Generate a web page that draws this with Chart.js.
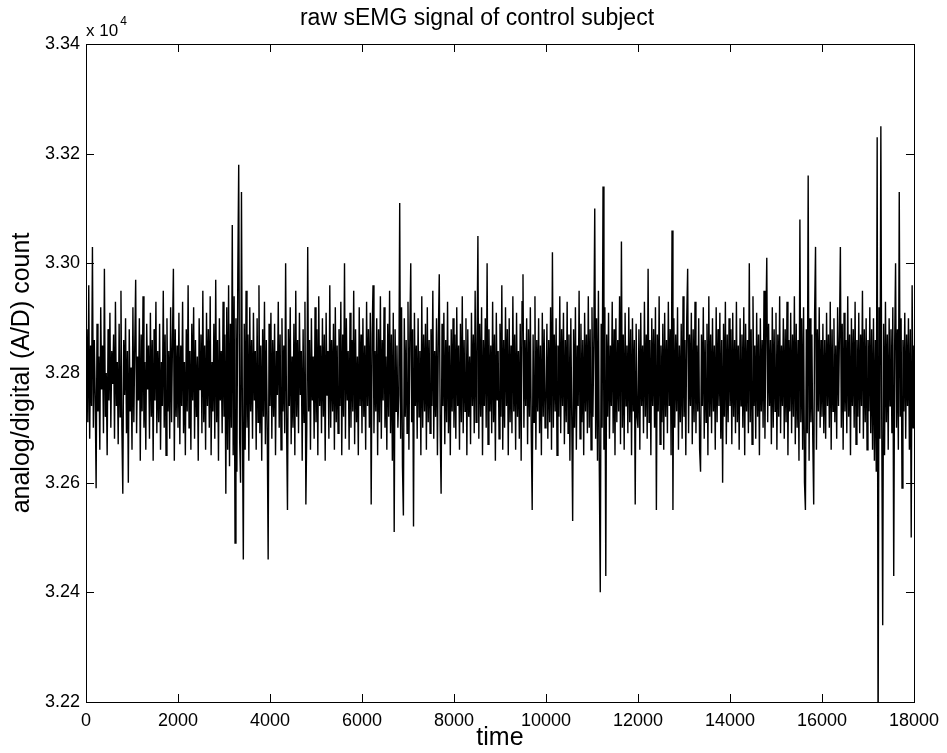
<!DOCTYPE html>
<html>
<head>
<meta charset="utf-8">
<title>raw sEMG signal of control subject</title>
<script src="https://cdn.jsdelivr.net/npm/chart.js"></script>
<style>
  html, body { margin: 0; padding: 0; background: #fff; }
  #wrap { width: 947px; height: 753px; }
</style>
</head>
<body>
<div id="wrap"><canvas id="emgChart" width="947" height="753"></canvas></div>
<script>
// raw A/D counts, one array per 2000 time units (20 units per sample)
const seg0 = [
  32790, 32880, 32710, 32960, 32680, 32850, 32740, 33030, 32700, 32860,
  32760, 32590, 32890, 32730, 32830, 32660, 32920, 32770, 32850, 32690,
  32990, 32720, 32800, 32650, 32880, 32750, 32910, 32700, 32840, 32780,
  32870, 32680, 32930, 32740, 32820, 32670, 32890, 32720, 32950, 32700,
  32580, 32860, 32760, 32900, 32690, 32840, 32600, 32880, 32730, 32810,
  32660, 32920, 32710, 32850, 32970, 32690, 32830, 32750, 32900, 32640,
  32870, 32730, 32940, 32700, 32820, 32660, 32890, 32770, 32850, 32680,
  32910, 32720, 32860, 32640, 32880, 32750, 32930, 32690, 32840, 32710,
  32890, 32660, 32820, 32740, 32950, 32700, 32870, 32650, 32900, 32730,
  32840, 32680, 32920, 32710, 32860, 32990, 32640, 32880, 32720, 32850
];
const seg1 = [
  32700, 32910, 32670, 32850, 32740, 32930, 32690, 32820, 32650, 32880,
  32730, 32960, 32700, 32840, 32660, 32890, 32750, 32920, 32680, 32860,
  32720, 32830, 32640, 32900, 32770, 32870, 32690, 32950, 32710, 32850,
  32660, 32910, 32740, 32880, 32700, 32940, 32650, 32820, 32730, 32890,
  32680, 32970, 32710, 32860, 32640, 32900, 32750, 32840, 32690, 32930,
  32720, 32870, 32580, 32920, 32660, 32960, 32630, 32890, 32700, 33070,
  32650, 32940, 32490, 32900, 32620, 32980, 33180, 32680, 32600, 33130,
  32720, 32460, 32890, 32660, 32950, 32700, 32870, 32640, 32920, 32730,
  32860, 32680, 32910, 32750, 32840, 32660, 32900, 32710, 32960, 32690,
  32850, 32640, 32880, 32720, 32930, 32670, 32860, 32700, 32460, 32890
];
const seg2 = [
  32740, 32910, 32680, 32860, 32720, 32890, 32650, 32840, 32760, 32930,
  32700, 32870, 32660, 32900, 32730, 32850, 32690, 33000, 32710, 32550,
  32880, 32740, 32920, 32670, 32830, 32700, 32890, 32650, 32950, 32720,
  32860, 32690, 32910, 32760, 32840, 32640, 32880, 32710, 32930, 32560,
  32700, 33030, 32730, 32860, 32660, 32900, 32750, 32830, 32680, 32920,
  32710, 32880, 32650, 32940, 32740, 32850, 32690, 32900, 32720, 32870,
  32640, 32910, 32760, 32840, 32680, 32960, 32700, 32860, 32730, 32890,
  32660, 32920, 32710, 32850, 32690, 32880, 32740, 32930, 32650, 32870,
  32720, 33000, 32680, 32900, 32750, 32840, 32660, 32910, 32700, 32860,
  32730, 32950, 32670, 32880, 32710, 32830, 32650, 32920, 32740, 32870
];
const seg3 = [
  32690, 32900, 32720, 32850, 32660, 32930, 32740, 32880, 32700, 32910,
  32560, 32870, 32960, 32690, 32840, 32730, 32900, 32650, 32880, 32710,
  32940, 32680, 32860, 32750, 32920, 32700, 32830, 32660, 32890, 32720,
  32950, 32690, 32870, 32640, 32910, 32510, 32880, 32730, 32850, 32700,
  32760, 33110, 32680, 32920, 32630, 32540, 32900, 32720, 32860, 32690,
  32930, 32660, 32870, 33000, 32710, 32880, 32520, 32910, 32740, 32850,
  32680, 32900, 32720, 32840, 32650, 32940, 32700, 32870, 32730, 32890,
  32660, 32920, 32710, 32860, 32690, 32880, 32740, 32950, 32680, 32840,
  32720, 32900, 32650, 32870, 32980, 32700, 32580, 32890, 32740, 32910,
  32670, 32860, 32710, 32930, 32690, 32850, 32650, 32880, 32730, 32900
];
const seg4 = [
  32700, 32870, 32680, 32920, 32740, 32850, 32660, 32890, 32710, 32940,
  32690, 32860, 32730, 32900, 32650, 32880, 32720, 32830, 32670, 32910,
  32740, 32870, 32690, 32950, 32710, 32840, 33050, 32680, 32890, 32720,
  32920, 32650, 32860, 32740, 32900, 32700, 33000, 32670, 32880, 32730,
  32850, 32690, 32930, 32710, 32870, 32640, 32910, 32750, 32840, 32680,
  32890, 32720, 32960, 32660, 32860, 32700, 32920, 32740, 32880, 32650,
  32900, 32710, 32850, 32690, 32940, 32730, 32870, 32660, 32910, 32720,
  32840, 32680, 32890, 32640, 32930, 32980, 32700, 32860, 32740, 32900,
  32670, 32880, 32720, 32920, 32690, 32550, 32870, 32710, 32940, 32660,
  32860, 32730, 32900, 32690, 32850, 32650, 32910, 32720, 32880, 32700
];
const seg5 = [
  32740, 32890, 32680, 32860, 32710, 32920, 32660, 33020, 32700, 32870,
  32730, 32900, 32650, 32850, 32720, 32940, 32690, 32880, 32740, 32910,
  32670, 32860, 32710, 32930, 32690, 32870, 32640, 32900, 32720, 32530,
  32880, 32700, 32920, 32660, 32850, 32740, 32950, 32680, 32890, 32710,
  32860, 32650, 32910, 32730, 32870, 32690, 32940, 32700, 32880, 32660,
  32920, 32720, 32860, 33100, 32680, 32900, 32640, 32950, 32620, 32400,
  32890, 32700, 33140, 32660, 32920, 32430, 32870, 32720, 32910, 32680,
  32850, 32740, 32930, 32690, 32880, 32650, 32900, 32710, 32860, 32730,
  32940, 32670, 33040, 32700, 32870, 32660, 32910, 32740, 32850, 32690,
  32920, 32710, 32880, 32650, 32900, 32730, 32860, 32560, 32890, 32720
];
const seg6 = [
  32700, 32880, 32660, 32910, 32740, 32850, 32690, 32930, 32720, 32870,
  32680, 32990, 32710, 32860, 32650, 32900, 32740, 32880, 32700, 32920,
  32550, 32870, 32730, 32940, 32670, 32850, 32710, 32890, 32660, 32910,
  32720, 32860, 32690, 32930, 32740, 32880, 32650, 33060, 32550, 32900,
  32700, 32870, 32730, 32920, 32660, 32850, 32710, 32890, 32680, 32940,
  32720, 32860, 32650, 32900, 32990, 32690, 32870, 32740, 32910, 32670,
  32880, 32710, 32930, 32690, 32850, 32730, 32900, 32660, 32620, 32870,
  32740, 32920, 32680, 32860, 32710, 32890, 32650, 32940, 32720, 32870,
  32690, 32900, 32730, 32850, 32660, 32920, 32710, 32880, 32740, 32910,
  32680, 32860, 32600, 32890, 32720, 32930, 32670, 32870, 32710, 32900
];
const seg7 = [
  32740, 32880, 32670, 32910, 32720, 32860, 32690, 32930, 32710, 32850,
  32660, 32900, 32740, 32870, 32700, 32920, 32650, 32890, 32730, 32860,
  32690, 33000, 32710, 32880, 32670, 32940, 32740, 32850, 32680, 32910,
  32720, 32870, 32650, 32900, 32730, 32860, 32700, 32950, 32680, 32880,
  33010, 32710, 32890, 32740, 32860, 32670, 32920, 32700, 32880, 32730,
  32910, 32660, 32870, 32720, 32940, 32690, 32850, 32740, 32900, 32680,
  32880, 32710, 32930, 32650, 32860, 32730, 32910, 32690, 32870, 32720,
  32940, 32670, 32890, 32700, 32860, 32640, 33080, 32710, 32900, 32660,
  32920, 32600, 32550, 32880, 32690, 33160, 32640, 32900, 32710, 32870,
  32680, 32560, 32910, 33030, 32660, 32880, 32730, 32920, 32700, 32860
];
const seg8 = [
  32720, 32890, 32690, 32860, 32680, 32910, 32740, 32870, 32700, 32930,
  32660, 32880, 32730, 32900, 32710, 32850, 32680, 32920, 32740, 32870,
  33030, 32700, 32890, 32660, 32910, 32730, 32860, 32690, 32940, 32720,
  32870, 32650, 32900, 32740, 32880, 32700, 32930, 32670, 32860, 32720,
  32910, 32690, 32870, 32740, 32950, 32680, 32880, 32710, 32900, 32660,
  32860, 32730, 32920, 32690, 32880, 32660, 32900, 32640, 32860, 32620,
  33230, 32100, 32920, 32680, 33250, 32700, 32340, 32890, 32650, 32930,
  32710, 32870, 32660, 32900, 32740, 32880, 32690, 32920, 32430, 32850,
  33000, 32700, 32880, 32660, 33130, 32720, 32900, 32590, 32860, 32730,
  32910, 32680, 32870, 32740, 32900, 32660, 32880, 32500, 32960, 32700,
  32850
];

const timeStep = 20;
const xTicks = [0, 2000, 4000, 6000, 8000, 10000, 12000, 14000, 16000, 18000];
const yTicks = [32200, 32400, 32600, 32800, 33000, 33200, 33400];
const titleText = "raw sEMG signal of control subject";

const counts = [].concat(seg0, seg1, seg2, seg3, seg4, seg5, seg6, seg7, seg8);
const points = counts.map((c, i) => ({ x: i * timeStep, y: c }));

const FONT = "'Liberation Sans', Arial, Helvetica, sans-serif";

// matlab style frame: full box, inward ticks on all sides, title and x 10^4 multiplier
const matlabBox = {
  id: "matlabBox",
  afterDatasetsDraw(chart) {
    const { ctx, chartArea: a, scales } = chart;
    const tl = 8;
    ctx.save();
    ctx.strokeStyle = "#000";
    ctx.lineWidth = 1;
    ctx.beginPath();
    xTicks.forEach(v => {
      const px = Math.round(scales.x.getPixelForValue(v)) + 0.5;
      ctx.moveTo(px, a.bottom); ctx.lineTo(px, a.bottom - tl);
      ctx.moveTo(px, a.top); ctx.lineTo(px, a.top + tl);
    });
    yTicks.forEach(v => {
      const py = Math.round(scales.y.getPixelForValue(v)) + 0.5;
      ctx.moveTo(a.left, py); ctx.lineTo(a.left + tl, py);
      ctx.moveTo(a.right, py); ctx.lineTo(a.right - tl, py);
    });
    ctx.stroke();
    ctx.strokeRect(Math.round(a.left) + 0.5, Math.round(a.top) + 0.5,
                   Math.round(a.right - a.left), Math.round(a.bottom - a.top));

    ctx.fillStyle = "#000";
    ctx.textBaseline = "middle";
    ctx.textAlign = "center";
    ctx.font = "23px " + FONT;
    ctx.fillText(titleText, 477, 19);

    ctx.textBaseline = "alphabetic";
    ctx.textAlign = "left";
    ctx.font = "17px " + FONT;
    ctx.fillText("x 10", a.left, a.top - 8);
    const w = ctx.measureText("x 10").width;
    ctx.font = "12px " + FONT;
    ctx.fillText("4", a.left + w + 2, a.top - 19);
    ctx.restore();
  }
};

new Chart(document.getElementById("emgChart").getContext("2d"), {
  type: "line",
  data: {
    datasets: [{
      label: "raw sEMG",
      data: points,
      borderColor: "#000",
      borderWidth: 1.4,
      pointRadius: 0,
      tension: 0,
      fill: false
    }]
  },
  options: {
    responsive: false,
    animation: false,
    events: [],
    layout: { padding: { top: 44, right: 31, bottom: 0, left: 0 } },
    plugins: {
      legend: { display: false },
      tooltip: { enabled: false },
      title: { display: false }
    },
    scales: {
      x: {
        type: "linear",
        min: 0,
        max: 18000,
        afterBuildTicks: s => { s.ticks = xTicks.map(v => ({ value: v })); },
        afterFit: s => { s.height = 51; },
        grid: { display: false, drawTicks: false },
        border: { display: false },
        ticks: {
          color: "#000",
          padding: 8,
          maxRotation: 0,
          font: { family: FONT, size: 18 },
          callback: v => String(v)
        },
        title: {
          display: true,
          text: "time",
          color: "#000",
          font: { family: FONT, size: 25 },
          padding: { top: 0, bottom: 0 }
        }
      },
      y: {
        type: "linear",
        min: 32200,
        max: 33400,
        afterBuildTicks: s => { s.ticks = yTicks.map(v => ({ value: v })); },
        afterFit: s => { s.width = 86; },
        grid: { display: false, drawTicks: false },
        border: { display: false },
        ticks: {
          color: "#000",
          padding: 6,
          font: { family: FONT, size: 18 },
          callback: v => (v / 10000).toFixed(2)
        },
        title: {
          display: true,
          text: "analog/digital (A/D) count",
          color: "#000",
          font: { family: FONT, size: 25 },
          padding: { top: 7, bottom: 0 }
        }
      }
    }
  },
  plugins: [matlabBox]
});
</script>
</body>
</html>
